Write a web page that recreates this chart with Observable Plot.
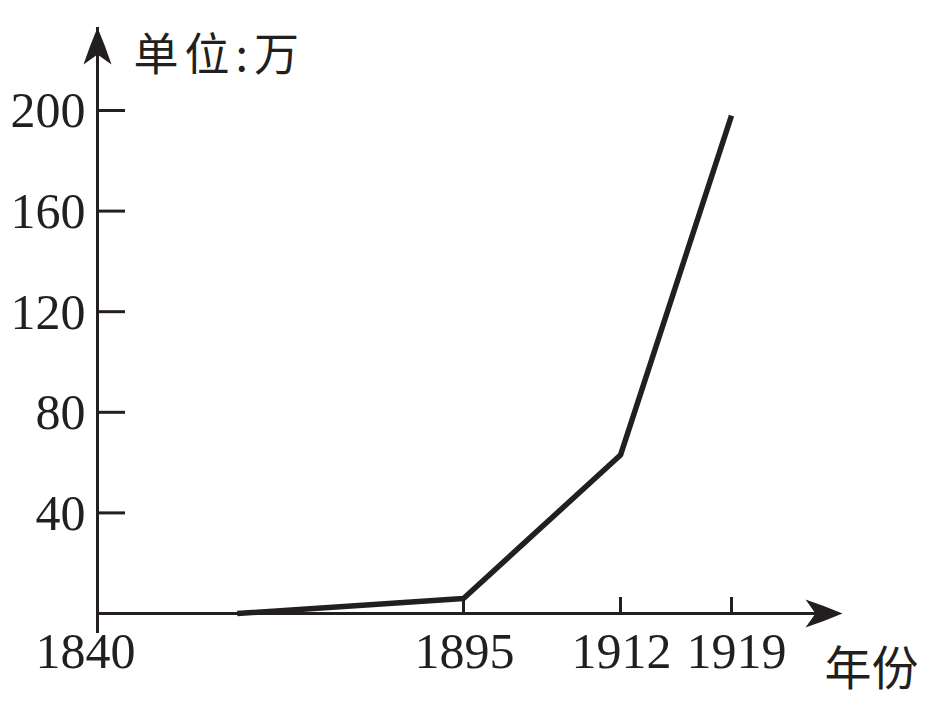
<!DOCTYPE html>
<html>
<head>
<meta charset="utf-8">
<script src="https://cdn.jsdelivr.net/npm/d3@7"></script>
<script src="https://cdn.jsdelivr.net/npm/@observablehq/plot@0.6"></script>
<style>
  html, body { margin: 0; padding: 0; background: #ffffff; }
</style>
</head>
<body>
<div id="chart"></div>
<script>
// ---- data ----
const years = [1861, 1895, 1912, 1919];
const workers = [0, 6, 63, 198];           // 单位：万
const xTickYears = [1895, 1912];
const lastTickYear = 1919;
const originYear = 1840;
const yTicks = [40, 80, 120, 160, 200];
const unitLabel = "单位:万";
const xTitle = "年份";
const yAxisEnd = 233;    // top of the arrowed y axis (value units)
const xAxisEnd = 1926;   // tip of the arrowed x axis (year units)

// schematic (non-uniform) year axis, as in the original drawing
const xBreaks = [1840, 1895, 1912, 1919];
const xPixels = [97, 463, 620, 731];

// ---- style ----
const ink = "#231f20";
const serif = "'Liberation Serif', 'Times New Roman', serif";
const cjk = "'Noto Sans CJK SC', 'Noto Sans CJK JP', sans-serif";

const rows = years.map((year, i) => ({year, value: workers[i]}));

// filled arrowhead pointing up, tip at the origin
const arrowHead = {
  draw(ctx) {
    ctx.moveTo(0, 0);
    ctx.quadraticCurveTo(8, 19, 14, 37);
    ctx.lineTo(0, 27);
    ctx.lineTo(-14, 37);
    ctx.quadraticCurveTo(-8, 19, 0, 0);
    ctx.closePath();
  }
};

const tickStyle = {stroke: ink, strokeWidth: 3};
const numStyle = {fontSize: 50, fontFamily: serif, fill: ink};

const chart = Plot.plot({
  width: 948,
  height: 702,
  marginTop: 27,
  marginBottom: 89,
  marginLeft: 97,
  marginRight: 106,
  style: {background: "#ffffff", color: ink, overflow: "visible"},
  x: {type: "linear", axis: null, domain: xBreaks, range: xPixels},
  y: {type: "linear", axis: null, domain: [0, yAxisEnd]},
  marks: [
    // axes lines
    Plot.ruleY([0], {x1: originYear, x2: xAxisEnd, ...tickStyle, insetRight: 20}),
    Plot.ruleX([originYear], {y1: 0, y2: yAxisEnd, ...tickStyle, insetTop: 20}),
    // inward ticks
    Plot.ruleY(yTicks, {y: d => d, x1: originYear, x2: originYear, insetRight: -28, ...tickStyle}),
    Plot.ruleX([...xTickYears, lastTickYear], {x: d => d, y1: 0, y2: 0, insetTop: -16, ...tickStyle}),
    // data line
    Plot.line(rows, {x: "year", y: "value", stroke: ink, strokeWidth: 5.5, strokeLinejoin: "miter", strokeLinecap: "butt"}),
    // arrowheads
    Plot.dot([{x: originYear, y: yAxisEnd}], {x: "x", y: "y", symbol: arrowHead, rotate: 0, fill: ink, stroke: "none"}),
    Plot.dot([{x: xAxisEnd, y: 0}], {x: "x", y: "y", symbol: arrowHead, rotate: 90, fill: ink, stroke: "none"}),
    // y tick labels
    Plot.text(yTicks, {x: originYear, y: d => d, text: d => String(d), textAnchor: "end", dx: -12, dy: 1, ...numStyle}),
    // x tick labels
    Plot.text([originYear], {x: d => d, y: 0, text: d => String(d), lineAnchor: "bottom", dx: -12, dy: 54, ...numStyle}),
    Plot.text(xTickYears, {x: d => d, y: 0, text: d => String(d), lineAnchor: "bottom", dx: 1, dy: 54, ...numStyle}),
    Plot.text([lastTickYear], {x: d => d, y: 0, text: d => String(d), lineAnchor: "bottom", dx: 5, dy: 54, ...numStyle}),
    // axis titles
    Plot.text([unitLabel], {x: originYear, y: yAxisEnd, text: d => d, textAnchor: "start", lineAnchor: "bottom",
      dx: 36, dy: 43, fontSize: 45, fontFamily: cjk, fill: ink}),
    Plot.text([xTitle], {x: xAxisEnd, y: 0, text: d => d, textAnchor: "start", lineAnchor: "bottom",
      dx: -18, dy: 71, fontSize: 47, fontFamily: cjk, fill: ink})
  ]
});

document.getElementById("chart").appendChild(chart);

// widen the unit label's spacing a little, as in the print original
d3.select(chart).selectAll("text")
  .filter(function () { return this.textContent === unitLabel; })
  .style("letter-spacing", "6px");
</script>
</body>
</html>
